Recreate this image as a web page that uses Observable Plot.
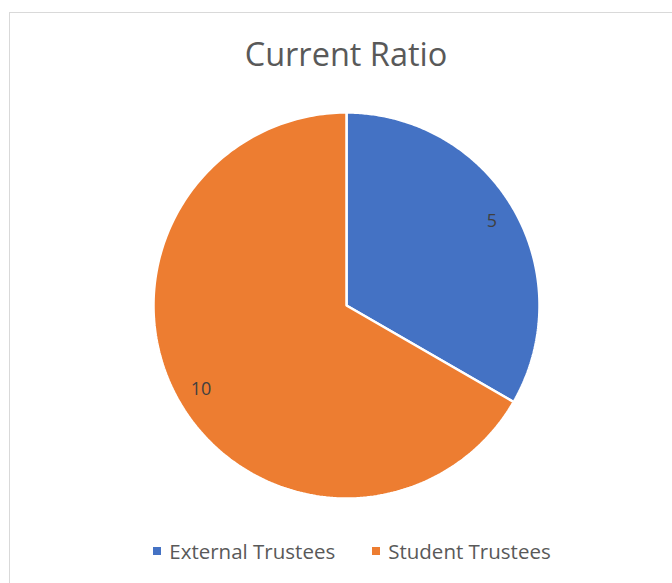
<!DOCTYPE html>
<html>
<head>
<meta charset="utf-8">
<script src="https://cdn.jsdelivr.net/npm/d3@7"></script>
<script src="https://cdn.jsdelivr.net/npm/@observablehq/plot@0.6"></script>
<style>
  html, body { margin: 0; padding: 0; background: #fff; width: 672px; height: 583px; overflow: hidden; }
  #frame { position: absolute; left: 9px; top: 12px; width: 700px; height: 620px; border-left: 1px solid #d9d9d9; border-top: 1px solid #d9d9d9; }
  #chart { position: absolute; left: 0; top: 0; }
  #title { position: absolute; left: 0; width: 692px; top: 38px; text-align: center; font-family: "Open Sans", sans-serif; font-size: 32.5px; color: #595959; line-height: 1; }
  #legend { position: absolute; top: 541px; left: 0; width: 704px; display: flex; justify-content: center; gap: 37px; font-family: "Open Sans", sans-serif; font-size: 20.5px; color: #595959; line-height: 1; }
  .item { display: flex; align-items: center; gap: 8px; }
  .sw { width: 8px; height: 8px; display: inline-block; }
</style>
</head>
<body>
<div id="frame"></div>
<div id="chart"></div>
<div id="title">Current Ratio</div>
<div id="legend"></div>
<script>
const categories = ["External Trustees", "Student Trustees"];
const values = [5, 10];
const colors = ["#4472C4", "#ED7D31"];

const data = categories.map((c, i) => ({category: c, value: values[i]}));
const arcs = d3.pie().sort(null).value(d => d.value)(data);

// slice outlines in unit-radius coordinates (y up), angle clockwise from 12 o'clock
const outline = [];
for (const a of arcs) {
  outline.push({category: a.data.category, x: 0, y: 0});
  const n = 240;
  for (let k = 0; k <= n; k++) {
    const t = a.startAngle + (a.endAngle - a.startAngle) * k / n;
    outline.push({category: a.data.category, x: Math.sin(t), y: Math.cos(t)});
  }
}
const labels = arcs.map(a => {
  const m = (a.startAngle + a.endAngle) / 2;
  return {label: String(a.data.value), x: 0.87 * Math.sin(m), y: 0.87 * Math.cos(m)};
});

const chart = Plot.plot({
  width: 672,
  height: 583,
  marginLeft: 153,
  marginRight: 133,
  marginTop: 112,
  marginBottom: 85,
  x: {domain: [-1, 1], axis: null},
  y: {domain: [-1, 1], axis: null},
  color: {domain: categories, range: colors},
  style: {background: "transparent", overflow: "visible"},
  marks: [
    Plot.line(outline, {x: "x", y: "y", z: "category", fill: "category", stroke: "white", strokeWidth: 2.5, strokeLinejoin: "miter", curve: "linear-closed"}),
    Plot.text(labels, {x: "x", y: "y", text: "label", fill: "#404040", fontSize: 18, fontFamily: "Open Sans, sans-serif"})
  ]
});
document.getElementById("chart").appendChild(chart);

const legend = document.getElementById("legend");
categories.forEach((c, i) => {
  const item = document.createElement("div");
  item.className = "item";
  const sw = document.createElement("span");
  sw.className = "sw";
  sw.style.background = colors[i];
  const tx = document.createElement("span");
  tx.textContent = c;
  item.appendChild(sw);
  item.appendChild(tx);
  legend.appendChild(item);
});
</script>
</body>
</html>
